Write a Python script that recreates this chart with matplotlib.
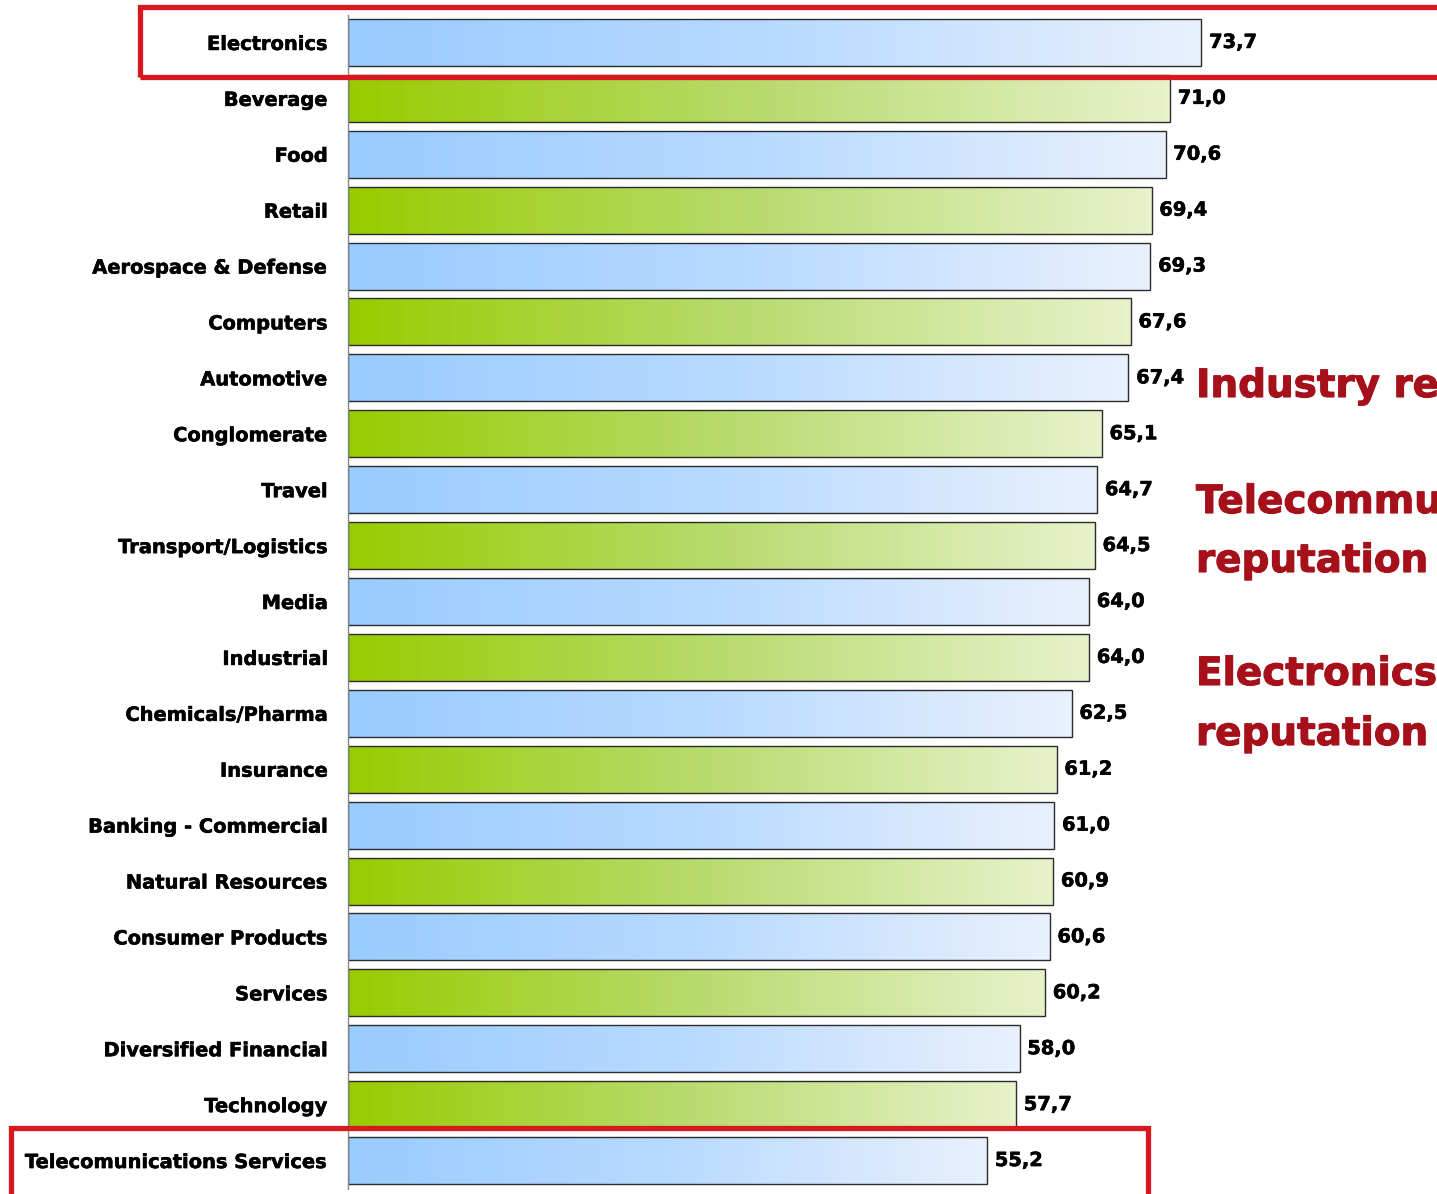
import numpy as np
import matplotlib
matplotlib.use("Agg")
import matplotlib.pyplot as plt
import matplotlib.patheffects as pe
from matplotlib.colors import LinearSegmentedColormap
from matplotlib.patches import Rectangle

plt.rcParams['font.family'] = ['DejaVu Sans']

industries = [
    "Electronics", "Beverage", "Food", "Retail", "Aerospace & Defense",
    "Computers", "Automotive", "Conglomerate", "Travel", "Transport/Logistics",
    "Media", "Industrial", "Chemicals/Pharma", "Insurance", "Banking - Commercial",
    "Natural Resources", "Consumer Products", "Services", "Diversified Financial",
    "Technology", "Telecomunications Services",
]
scores = [
    73.7, 71.0, 70.6, 69.4, 69.3,
    67.6, 67.4, 65.1, 64.7, 64.5,
    64.0, 64.0, 62.5, 61.2, 61.0,
    60.9, 60.6, 60.2, 58.0,
    57.7, 55.2,
]

W, H = 1437, 1194
DPI = 100
fig = plt.figure(figsize=(W / DPI, H / DPI), dpi=DPI)

# axes in pixel geometry
ax_left, ax_right = 348, W
ax_top, ax_bottom = 14.5, 1188.5
ax = fig.add_axes([ax_left / W, 1 - ax_bottom / H,
                   (ax_right - ax_left) / W, (ax_bottom - ax_top) / H])

px_per_unit = 11.58
xmax = (ax_right - ax_left) / px_per_unit

blue_cmap = LinearSegmentedColormap.from_list("blue_fade", ["#99CCFF", "#B8DAFF", "#E9F1FD"])
green_cmap = LinearSegmentedColormap.from_list("green_fade", ["#99CC00", "#B8DB6E", "#E8F2CB"])
grad = np.linspace(0, 1, 256).reshape(1, -1)

heavy = [pe.withStroke(linewidth=0.4, foreground="#000000")]

bar_h = 0.84
for i, v in enumerate(scores):
    cmap = blue_cmap if i % 2 == 0 else green_cmap
    ax.imshow(grad, cmap=cmap, aspect="auto", interpolation="bilinear",
              extent=[0, v, i + bar_h / 2, i - bar_h / 2], zorder=1)
    ax.barh(i, v, height=bar_h, left=0, facecolor="none",
            edgecolor="#2B2B2B", linewidth=1.0, zorder=2)
    ax.annotate(f"{v:.1f}".replace(".", ","), xy=(v, i), xytext=(5.5, 0),
                textcoords="offset points", va="center", ha="left",
                fontsize=14, fontweight="bold", color="#000000",
                path_effects=heavy)

ax.set_xlim(0, xmax)
ax.set_ylim(len(scores) - 0.5, -0.5)
ax.set_yticks(range(len(industries)), labels=industries)
ax.tick_params(axis="y", length=0, pad=14.4, labelsize=14)
for lab in ax.get_yticklabels():
    lab.set_fontweight("bold")
    lab.set_color("#000000")
    lab.set_path_effects(heavy)
ax.set_xticks([])
for side in ("top", "right", "bottom"):
    ax.spines[side].set_visible(False)
ax.spines["left"].set_color("#888888")
ax.spines["left"].set_linewidth(1.0)

# highlight frames (pixel coordinates of the figure)
def frame(x0, y0, x1, y1):
    r = Rectangle((x0 / W, 1 - y1 / H), (x1 - x0) / W, (y1 - y0) / H,
                  transform=fig.transFigure, fill=False,
                  edgecolor="#D7191F", linewidth=3.8, clip_on=False, zorder=10)
    fig.add_artist(r)

frame(140, 7.5, 1460, 77)
frame(10.5, 1128, 1148, 1230)

# commentary on the right
red = "#A6101A"
notes = [
    ("Industry reputation", 397),
    ("Telecommunications", 513),
    ("reputation", 572),
    ("Electronics", 685),
    ("reputation", 745),
]
for txt, yb in notes:
    fig.text(1196 / W, 1 - yb / H, txt, color=red, fontsize=28,
             fontweight="bold", ha="left", va="baseline",
             path_effects=[pe.withStroke(linewidth=0.8, foreground=red)])

fig.savefig("out.png", dpi=DPI)
